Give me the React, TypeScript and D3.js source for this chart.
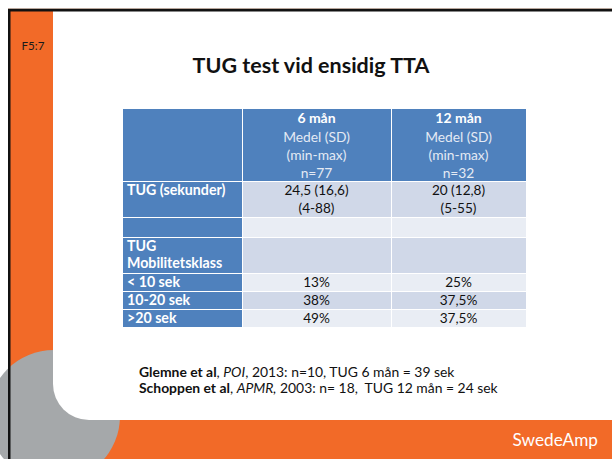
import React from "react";
import * as d3 from "d3";

// table content
const colHeads = ["", "6 mån", "12 mån"];
const headSub = [
  ["Medel (SD)", "(min-max)", "n=77"],
  ["Medel (SD)", "(min-max)", "n=32"],
];
const rowLabels = [["TUG (sekunder)"], [], ["TUG", "Mobilitetsklass"], ["< 10 sek"], ["10-20 sek"], [">20 sek"]];
const val6 = [["24,5 (16,6)", "(4-88)"], [], [], ["13%"], ["38%"], ["49%"]];
const val12 = [["20 (12,8)", "(5-55)"], [], [], ["25%"], ["37,5%"], ["37,5%"]];
const rowHeights = [36, 20, 36, 18, 18, 18];
const colWidths = [119, 149, 135];

const ORANGE = "#F26A28";
const BLUE = "#4F81BD";
const DARK = "#D0D8E8";
const LIGHT = "#E9EDF4";
const FONT = "Lato, 'Open Sans', sans-serif";

export default function App() {
  const tableX = 123;
  const headTop = 109;
  const headH = 72;

  const colEdges = [0, ...d3.cumsum(colWidths)];
  const x = d3.scaleLinear().domain([0, d3.sum(colWidths)]).range([tableX, tableX + d3.sum(colWidths)]);
  const rowEdges = [0, ...d3.cumsum(rowHeights)];
  const y = d3.scaleLinear().domain([0, d3.sum(rowHeights)]).range([headTop + headH, headTop + headH + d3.sum(rowHeights)]);

  const colCenter = (i: number) => x((colEdges[i] + colEdges[i + 1]) / 2);

  // white card: square top, rounded bottom-left corner
  const card = d3.path();
  card.moveTo(53, 11);
  card.lineTo(612, 11);
  card.lineTo(612, 420);
  card.lineTo(53 + 36, 420);
  card.arcTo(53, 420, 53, 420 - 36, 36);
  card.closePath();

  return (
    <svg width={612} height={459} style={{ position: "absolute", left: 0, top: 0 }} fontFamily={FONT}>
      <rect width={612} height={459} fill="#fff" />
      {/* slide background */}
      <rect x={8} y={8} width={604} height={451} fill={ORANGE} />
      <circle cx={54} cy={416} r={66} fill="#A5A8AA" />
      <path d={card.toString()} fill="#fff" />
      <rect x={8} y={8} width={604} height={1} fill="#b9a79c" />
      <rect x={8} y={9} width={604} height={2.5} fill="#111" />
      <rect x={8} y={9} width={2.5} height={450} fill="#111" />

      <text x={33} y={50} textAnchor="middle" fontSize={11.6} fill="#1a1a1a">F5:7</text>
      <text x={311} y={73} textAnchor="middle" fontSize={21.5} fontWeight="bold" fill="#111">TUG test vid ensidig TTA</text>

      {/* header row */}
      {colWidths.map((w, i) => (
        <rect key={"h" + i} x={x(colEdges[i]) + (i ? 1 : 0)} y={headTop} width={w - (i ? 1 : 0)} height={headH} fill={BLUE} />
      ))}
      {[1, 2].map((c) => (
        <g key={"hc" + c}>
          <text x={colCenter(c)} y={headTop + 14} textAnchor="middle" fontSize={14} fontWeight="bold" fill="#fff">{colHeads[c]}</text>
          {headSub[c - 1].map((s, k) => (
            <text key={k} x={colCenter(c)} y={headTop + 32.5 + k * 18} textAnchor="middle" fontSize={13.8} fill="#E4EAF4">{s}</text>
          ))}
        </g>
      ))}

      {/* body rows */}
      {rowHeights.map((h, r) => {
        const top = y(rowEdges[r]) + 1;
        const hh = h - 1;
        const fill = r % 2 === 0 ? DARK : LIGHT;
        const nLines = Math.max(rowLabels[r].length, val6[r].length, 1);
        const base = top + (hh - (nLines - 1) * 18) / 2 + 4.8;
        return (
          <g key={"r" + r}>
            <rect x={x(colEdges[0])} y={top} width={colWidths[0]} height={hh} fill={BLUE} />
            <rect x={x(colEdges[1]) + 1} y={top} width={colWidths[1] - 1} height={hh} fill={fill} />
            <rect x={x(colEdges[2]) + 1} y={top} width={colWidths[2] - 1} height={hh} fill={fill} />
            {rowLabels[r].map((t, k) => (
              <text key={"l" + k} x={x(0) + 4} y={base + k * 17} fontSize={14.2} fontWeight="bold" fill="#fff">{t}</text>
            ))}
            {val6[r].map((t, k) => (
              <text key={"a" + k} x={colCenter(1)} y={base + k * 18} textAnchor="middle" fontSize={13.6} fill="#111">{t}</text>
            ))}
            {val12[r].map((t, k) => (
              <text key={"b" + k} x={colCenter(2)} y={base + k * 18} textAnchor="middle" fontSize={13.6} fill="#111">{t}</text>
            ))}
          </g>
        );
      })}

      {/* references */}
      <text x={139} y={377} fontSize={13.9} fill="#111" style={{ whiteSpace: "pre" }}>
        <tspan fontWeight="bold">Glemne et al</tspan>{", "}<tspan fontStyle="italic">POI</tspan>{", 2013: n=10, TUG 6 mån = 39 sek"}
      </text>
      <text x={139} y={393} fontSize={13.9} fill="#111" style={{ whiteSpace: "pre" }}>
        <tspan fontWeight="bold">Schoppen et al</tspan>{", "}<tspan fontStyle="italic">APMR,</tspan>{" 2003: n= 18,  TUG 12 mån = 24 sek"}
      </text>

      <text x={598} y={446} textAnchor="end" fontSize={17.2} fill="#fff">SwedeAmp</text>
    </svg>
  );
}
